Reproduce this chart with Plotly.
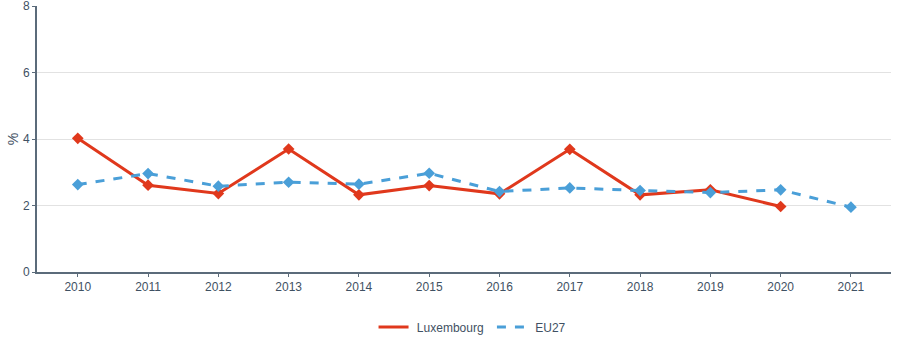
import plotly.graph_objects as go

years = [2010, 2011, 2012, 2013, 2014, 2015, 2016, 2017, 2018, 2019, 2020, 2021]
lux_years = years[:11]
luxembourg = [4.02, 2.61, 2.36, 3.70, 2.32, 2.60, 2.35, 3.69, 2.32, 2.47, 1.97]
eu27 = [2.63, 2.96, 2.58, 2.70, 2.64, 2.97, 2.42, 2.53, 2.45, 2.39, 2.47, 1.95]
series_names = ["Luxembourg", "EU27"]

axis_col = "#5b6b7a"
text_col = "#3f5163"
red = "#e0381c"
blue = "#4a9fd8"
nb = "\u00a0"

fig = go.Figure()
fig.add_trace(go.Scatter(x=lux_years, y=luxembourg, name=nb + series_names[0] + nb,
                         mode="lines", line=dict(color=red, width=3)))
fig.add_trace(go.Scatter(x=years, y=eu27, name=nb + series_names[1], mode="lines",
                         line=dict(color=blue, width=3, dash="dash")))
fig.add_trace(go.Scatter(x=lux_years, y=luxembourg, name=series_names[0], mode="markers",
                         showlegend=False, marker=dict(symbol="diamond", size=9, color=red)))
fig.add_trace(go.Scatter(x=years, y=eu27, name=series_names[1], mode="markers",
                         showlegend=False, marker=dict(symbol="diamond", size=9, color=blue)))

fig.update_layout(
    width=900, height=360,
    margin=dict(l=37, r=9, t=6, b=88, autoexpand=False),
    paper_bgcolor="white", plot_bgcolor="white",
    font=dict(family="Liberation Sans, Arial, sans-serif", size=12, color=text_col),
    showlegend=True,
    legend=dict(orientation="h", x=0.51, xanchor="center", y=-0.207, yanchor="middle",
                font=dict(size=12, color=text_col)),
    xaxis=dict(range=[2009.42, 2021.57], tickmode="array", tickvals=years,
               ticktext=[str(y) for y in years], showgrid=False, showline=True,
               linecolor=axis_col, linewidth=2, ticks="outside", tickcolor=axis_col,
               ticklen=3, tickwidth=1, tickfont=dict(size=12, color=text_col),
               zeroline=False, automargin=False),
    yaxis=dict(range=[0, 8], tickvals=[0, 2, 4, 6, 8], showgrid=True, gridcolor="#e2e2e2",
               showline=True, linecolor=axis_col, linewidth=2, ticks="outside",
               tickcolor=axis_col, ticklen=3, tickfont=dict(size=12, color=text_col),
               zeroline=False, automargin=False, ticklabeloverflow="allow",
               title=dict(text="%", font=dict(size=14, color=text_col), standoff=1)),
)

fig.write_html("out.html", config={"displayModeBar": False},
               post_script="document.body.style.margin='0';")
